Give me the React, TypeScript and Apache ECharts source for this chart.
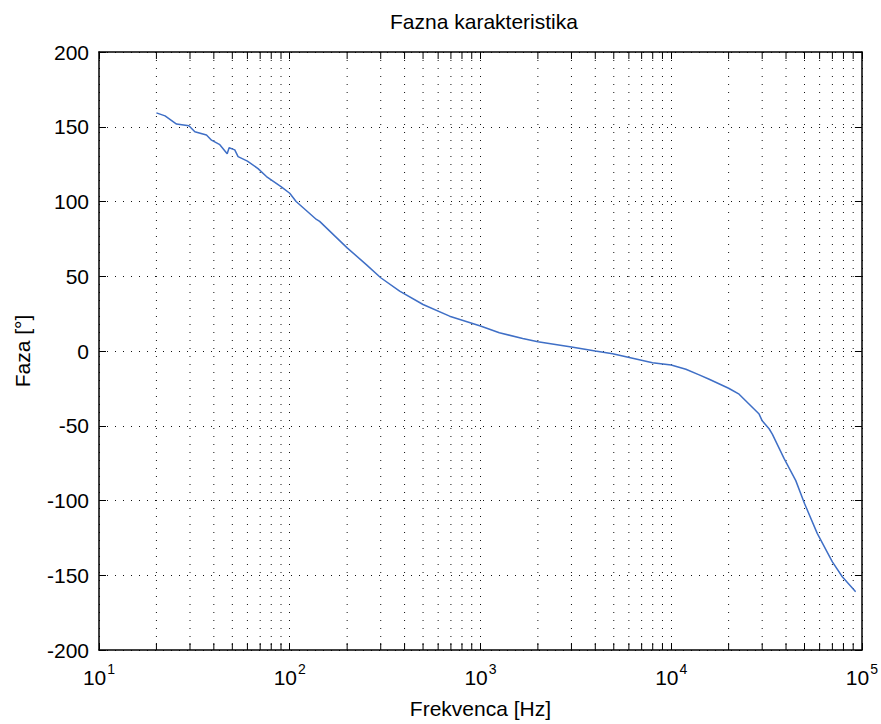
import React, { useEffect, useRef } from "react";
import * as echarts from "echarts";

// Measured curve (frequency in Hz, phase in degrees)
const freqs = [
  20, 22.2, 25.5, 29.6, 31.8, 36.6, 38.9, 43, 47, 48.1, 51.5, 53.6, 60, 68.2, 75.5, 90, 100, 108, 138,
  143.5, 200, 252, 300, 377, 500, 689, 1000, 1256, 1665, 2000, 3000, 4000, 4932, 6030, 7980, 10000,
  11940, 14020, 15820, 20000, 22700, 28900, 30000, 32600, 33900, 39100, 45000, 50000, 58300, 70000,
  78900, 92700,
];
const phases = [
  159.3, 157.3, 151.8, 150.7, 146.7, 144.5, 141, 138, 132, 136, 134.5, 130, 127, 122, 116.7, 110, 105.5,
  100, 88, 86.7, 69, 57.8, 49, 40, 31.1, 23.3, 16.7, 12.2, 8.4, 6.2, 2.7, 0, -1.8, -4.4, -7.8, -9.4,
  -12.2, -16, -18.9, -24.9, -28.9, -42.2, -46.7, -52, -55.6, -72, -86.7, -102, -122, -141, -151, -161,
];

// Minor log-grid positions (2..9 in each decade)
const minorMultipliers = [2, 3, 4, 5, 6, 7, 8, 9];
const decades = [10, 100, 1000, 10000];
const minorFreqs: number[] = [];
decades.forEach((d) => minorMultipliers.forEach((m) => minorFreqs.push(m * d)));

const xMin = 10;
const xMax = 100000;
const yMin = -200;
const yMax = 200;
const yInterval = 50;

const FONT = "Liberation Sans, Arial, sans-serif";
const dotted = { color: "#111", width: 1, type: [1, 7] as number[] };

export default function App() {
  const ref = useRef<HTMLDivElement>(null);
  useEffect(() => {
    if (!ref.current) return;
    const chart = echarts.init(ref.current, undefined, { renderer: "svg" });
    const baseX = {
      type: "log" as const,
      logBase: 10,
      min: xMin,
      max: xMax,
      axisLine: { show: true, onZero: false, lineStyle: { color: "#000", width: 1.5 } },
      axisTick: { show: true, inside: true, length: 7, lineStyle: { color: "#000", width: 1 } },
    };
    const baseY = {
      type: "value" as const,
      min: yMin,
      max: yMax,
      interval: yInterval,
      axisLine: { show: true, onZero: false, lineStyle: { color: "#000", width: 1.5 } },
      axisTick: { show: true, inside: true, length: 7, lineStyle: { color: "#000", width: 1 } },
    };
    chart.setOption({
      animation: false,
      backgroundColor: "#fff",
      title: {
        text: "Fazna karakteristika",
        left: 479,
        top: 6,
        textAlign: "center",
        textStyle: { fontFamily: FONT, fontSize: 21, fontWeight: "normal", color: "#000" },
      },
      grid: { left: 99, top: 52, width: 764, height: 600, containLabel: false },
      xAxis: [
        {
          ...baseX,
          position: "bottom",
          name: "Frekvenca [Hz]",
          nameLocation: "middle",
          nameGap: 48,
          nameTextStyle: { fontFamily: FONT, fontSize: 21, color: "#000" },
          axisLabel: {
            margin: 12,
            formatter: (v: number) => `{b|10}{e|${Math.round(Math.log10(v))}}`,
            rich: {
              b: { fontFamily: FONT, fontSize: 21, color: "#000" },
              e: { fontFamily: FONT, fontSize: 14, color: "#000", padding: [0, 0, 16, 1] },
            },
          },
          splitLine: { show: true, lineStyle: dotted },
        },
        {
          ...baseX,
          position: "top",
          axisLabel: { show: false },
          splitLine: { show: false },
        },
      ],
      yAxis: [
        {
          ...baseY,
          position: "left",
          name: "Faza [°]",
          nameLocation: "middle",
          nameGap: 66,
          nameTextStyle: { fontFamily: FONT, fontSize: 21, color: "#000" },
          axisLabel: { margin: 10, fontFamily: FONT, fontSize: 21, color: "#000" },
          splitLine: { show: true, lineStyle: dotted },
        },
        {
          ...baseY,
          position: "right",
          axisLabel: { show: false },
          splitLine: { show: false },
        },
      ],
      series: [
        {
          type: "custom",
          xAxisIndex: 0,
          yAxisIndex: 0,
          silent: true,
          z: 1,
          clip: false,
          data: minorFreqs.map((f) => [f, 0]),
          encode: { x: 0, y: 1 },
          renderItem: (params: any, api: any) => {
            const x = api.coord([api.value(0), 0])[0];
            const cs = params.coordSys;
            const top = cs.y;
            const bottom = cs.y + cs.height;
            return {
              type: "group",
              children: [
                {
                  type: "line",
                  shape: { x1: x, y1: top, x2: x, y2: bottom },
                  style: { stroke: "#111", lineWidth: 1, lineDash: [1, 7] },
                },
                {
                  type: "line",
                  shape: { x1: x, y1: bottom - 7, x2: x, y2: bottom },
                  style: { stroke: "#000", lineWidth: 1 },
                },
                {
                  type: "line",
                  shape: { x1: x, y1: top, x2: x, y2: top + 7 },
                  style: { stroke: "#000", lineWidth: 1 },
                },
              ],
            };
          },
        },
        {
          type: "line",
          xAxisIndex: 0,
          yAxisIndex: 0,
          z: 5,
          data: freqs.map((f, i) => [f, phases[i]]),
          showSymbol: false,
          symbol: "none",
          smooth: false,
          lineStyle: { color: "#3f6fc6", width: 1.5 },
        },
      ],
    });
    return () => chart.dispose();
  }, []);
  return (
    <div
      ref={ref}
      style={{ position: "absolute", left: 0, top: 0, width: 881, height: 724, background: "#fff" }}
    />
  );
}
